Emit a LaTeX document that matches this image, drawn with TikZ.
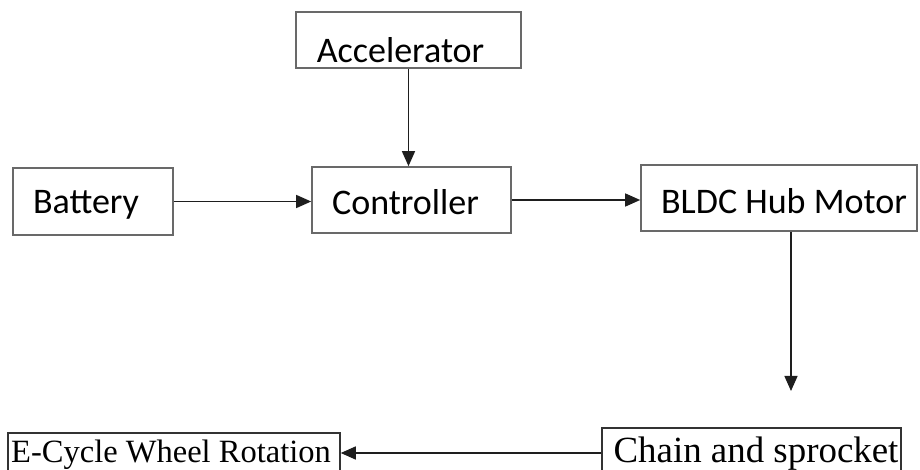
\documentclass[tikz,border=0pt]{standalone}
\usepackage{fontspec}
\setmainfont{Liberation Serif}
\newfontfamily\blockfont{Carlito}
\usetikzlibrary{arrows.meta, positioning}
\definecolor{boxgray}{RGB}{105,105,105}
\definecolor{wiregray}{RGB}{30,30,30}

\tikzset{
  blk/.style={draw=boxgray, line width=0.32mm, inner sep=0pt, text depth=0pt,
    font=\blockfont\fontsize{20.5}{24}\selectfont},
  lowblk/.style={draw=black!80, line width=0.3mm, inner sep=0pt, text depth=0pt},
  flow/.style={-{Triangle[length=3mm, width=2.6mm]}, wiregray, line width=0.28mm}
}

\begin{document}
\begin{tikzpicture}[x=0.2mm, y=-0.2mm]
  \useasboundingbox (0,0) rectangle (920,470);
  \clip (0,0) rectangle (920,470);

  % upper row
  \node[blk, minimum width=45mm, minimum height=11.2mm, text height=9.2mm]
    (accel) at (408.5,40) {Accelerator\hspace*{3.2mm}};
  \node[blk, minimum width=32mm, minimum height=13.4mm, text height=4.8mm]
    (battery) at (93,201.5) {Battery\hspace*{2.8mm}};
  \node[blk, minimum width=39.8mm, minimum height=13.2mm, text height=5.8mm]
    (ctrl) at (411.5,200) {Controller\hspace*{2.4mm}};
  \node[blk, minimum width=55.2mm, minimum height=13.2mm, text height=6.4mm]
    (motor) at (779,198) {\hspace*{2mm}BLDC Hub Motor};

  % lower row
  \node[lowblk, font=\fontsize{21}{24}\selectfont, minimum width=59.8mm,
    minimum height=10mm, text height=3.6mm] (chain) at (751.5,453) {\hspace*{1.8mm}Chain and sprocket};
  \node[lowblk, font=\fontsize{18.5}{22}\selectfont, minimum width=66.4mm,
    minimum height=8.8mm, text height=2.8mm] (wheel) at (174,455) {E-Cycle Wheel Rotation\hspace*{1.2mm}};

  % arrows
  \draw[flow] (accel.south) -- (accel.south |- ctrl.north);
  \draw[flow] (battery.east) -- (battery.east -| ctrl.west);
  \draw[flow] (ctrl.east) -- (ctrl.east -| motor.west);
  \coordinate (gap) at (791,391);
  \draw[flow] (motor.south -| gap) -- (gap);
  \draw[flow] (chain.west) -- (chain.west -| wheel.east);

\end{tikzpicture}
\end{document}
